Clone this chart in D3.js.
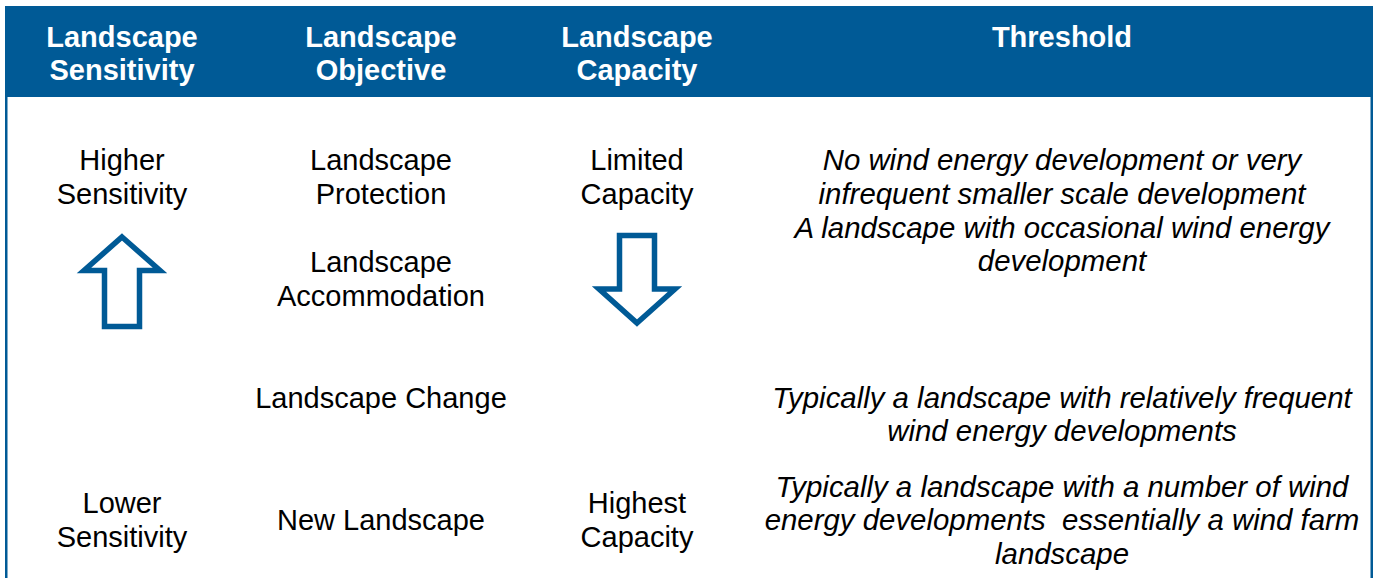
<!DOCTYPE html>
<html>
    <head>
        <meta charset="utf-8" />
        <title>Landscape capacity</title>
        <script src="https://d3js.org/d3.v7.min.js"></script>
        <style>
            body { margin: 0; background: white; }
            text { font-family: Arial, Helvetica, "Liberation Sans", sans-serif; white-space: pre; }
        </style>
    </head>
    <body>
        <svg id="data-viz" width="1375" height="578"></svg>

        <script>
            // column headers (two lines each)
            var headers = [
                ["Landscape", "Sensitivity"],
                ["Landscape", "Objective"],
                ["Landscape", "Capacity"],
                ["Threshold"]
            ];

            // cell text per column, each block is a list of lines
            var sensitivity = [
                ["Higher", "Sensitivity"],
                ["Lower", "Sensitivity"]
            ];
            var objective = [
                ["Landscape", "Protection"],
                ["Landscape", "Accommodation"],
                ["Landscape Change"],
                ["New Landscape"]
            ];
            var capacity = [
                ["Limited", "Capacity"],
                ["Highest", "Capacity"]
            ];
            var threshold = [
                ["No wind energy development or very", "infrequent smaller scale development"],
                ["A landscape with occasional wind energy", "development"],
                ["Typically a landscape with relatively frequent", "wind energy developments"],
                ["Typically a landscape with a number of wind", "energy developments  essentially a wind farm", "landscape"]
            ];

            var blue = "#005a96";
            var svg = d3.select("#data-viz");

            // column centres
            var x = d3.scaleOrdinal()
                .domain([0, 1, 2, 3])
                .range([122, 381, 637, 1062]);

            // line slots -> baseline y
            var y = d3.scaleLinear().domain([0, 1]).range([170, 203.5]);

            // header band
            svg.append("rect")
                .attr("x", 5).attr("y", 6)
                .attr("width", 1368).attr("height", 91)
                .attr("fill", blue);

            // side borders
            svg.append("rect").attr("x", 5).attr("y", 97).attr("width", 2.5).attr("height", 481).attr("fill", blue);
            svg.append("rect").attr("x", 1370.5).attr("y", 97).attr("width", 2.5).attr("height", 481).attr("fill", blue);

            headers.forEach(function(h, i) {
                h.forEach(function(line, j) {
                    svg.append("text")
                        .attr("x", x(i))
                        .attr("y", 47 + j * 33)
                        .attr("text-anchor", "middle")
                        .attr("fill", "white")
                        .attr("font-weight", "bold")
                        .attr("font-size", "29px")
                        .text(line);
                });
            });

            // starting slot for each block
            var columns = [
                { blocks: sensitivity, slots: [0, 10.25], italic: false },
                { blocks: objective, slots: [0, 3.05, 7.1, 10.75], italic: false },
                { blocks: capacity, slots: [0, 10.25], italic: false },
                { blocks: threshold, slots: [0, 2.02, 7.1, 9.75], italic: true }
            ];

            columns.forEach(function(col, i) {
                col.blocks.forEach(function(block, b) {
                    block.forEach(function(line, j) {
                        svg.append("text")
                            .attr("x", x(i))
                            .attr("y", y(col.slots[b] + j))
                            .attr("text-anchor", "middle")
                            .attr("fill", "black")
                            .attr("font-size", col.italic ? "29.4px" : "29px")
                            .attr("font-style", col.italic ? "italic" : "normal")
                            .text(line);
                    });
                });
            });

            // hollow arrows
            function arrowPath(cx, tip, shoulder, end, head, shaft) {
                return d3.line()([
                    [cx, tip], [cx + head, shoulder], [cx + shaft, shoulder],
                    [cx + shaft, end], [cx - shaft, end], [cx - shaft, shoulder],
                    [cx - head, shoulder]
                ]) + "Z";
            }

            svg.append("path")
                .attr("d", arrowPath(x(0), 237, 270.5, 326.5, 38, 17.5))
                .attr("fill", "white")
                .attr("stroke", blue)
                .attr("stroke-width", 5.5);

            svg.append("path")
                .attr("d", arrowPath(x(2), 323, 289, 235.5, 38, 17.5))
                .attr("fill", "white")
                .attr("stroke", blue)
                .attr("stroke-width", 5.5);
        </script>
    </body>
</html>
